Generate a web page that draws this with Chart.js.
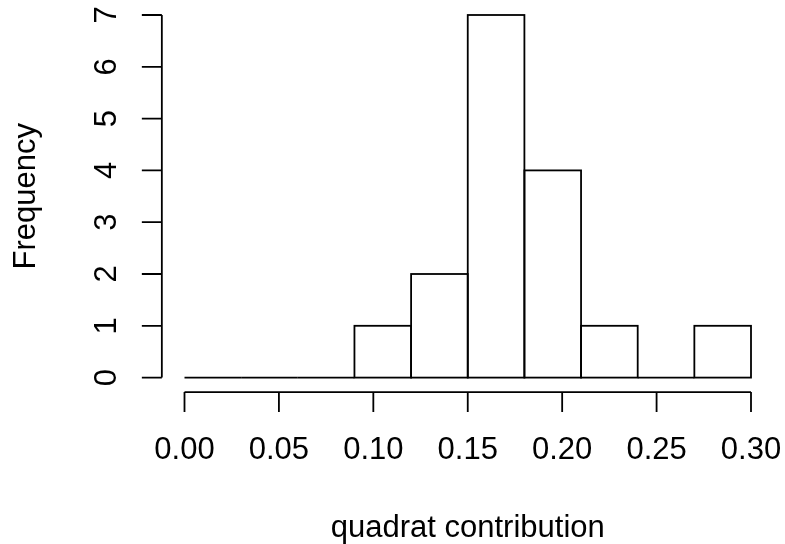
<!DOCTYPE html>
<html>
<head>
<meta charset="utf-8">
<script src="https://cdn.jsdelivr.net/npm/chart.js@4/dist/chart.umd.min.js"></script>
<style>
  html, body { margin: 0; padding: 0; background: #fff; }
  #wrap { width: 785px; height: 544px; }
</style>
</head>
<body>
<div id="wrap"><canvas id="hist" width="785" height="544"></canvas></div>
<script>
// Histogram of quadrat contributions (R hist() look)
const BREAKS = [0.00, 0.03, 0.06, 0.09, 0.12, 0.15, 0.18, 0.21, 0.24, 0.27, 0.30];
const COUNTS = [0, 0, 0, 1, 2, 7, 4, 1, 0, 1];
const X_TICKS = [0.00, 0.05, 0.10, 0.15, 0.20, 0.25, 0.30];
const Y_TICKS = [0, 1, 2, 3, 4, 5, 6, 7];
const X_TITLE = 'quadrat contribution';
const Y_TITLE = 'Frequency';

const FONT = '31px "Liberation Sans", Arial, Helvetica, sans-serif';
const LINE_W = 1.8;
const TICK_LEN = 20;

// ── R-style axes + bar outlines drawn from chart scales ─────────
const rPlot = {
  id: 'rPlot',
  afterDatasetsDraw(chart) {
    const { ctx, scales: { x, y } } = chart;
    ctx.save();
    ctx.strokeStyle = '#000';
    ctx.fillStyle = '#000';
    ctx.lineWidth = LINE_W;

    // bar outlines (strokes centred on edges like R's rect())
    chart.getDatasetMeta(0).data.forEach(bar => {
      const p = bar.getProps(['x', 'y', 'base', 'width'], true);
      ctx.strokeRect(p.x - p.width / 2, p.y, p.width, p.base - p.y);
    });

    // R puts axes 4% outside the data range
    const xSpan = x.max - x.min, ySpan = y.max - y.min;
    const axisY = y.getPixelForValue(y.min - 0.04 * ySpan);
    const axisX = x.getPixelForValue(x.min - 0.04 * xSpan);

    // x axis
    ctx.beginPath();
    ctx.moveTo(x.getPixelForValue(X_TICKS[0]), axisY);
    ctx.lineTo(x.getPixelForValue(X_TICKS[X_TICKS.length - 1]), axisY);
    X_TICKS.forEach(v => {
      const px = x.getPixelForValue(v);
      ctx.moveTo(px, axisY);
      ctx.lineTo(px, axisY + TICK_LEN);
    });
    ctx.stroke();

    // y axis
    ctx.beginPath();
    ctx.moveTo(axisX, y.getPixelForValue(Y_TICKS[0]));
    ctx.lineTo(axisX, y.getPixelForValue(Y_TICKS[Y_TICKS.length - 1]));
    Y_TICKS.forEach(v => {
      const py = y.getPixelForValue(v);
      ctx.moveTo(axisX, py);
      ctx.lineTo(axisX - TICK_LEN, py);
    });
    ctx.stroke();

    ctx.font = FONT;
    ctx.textBaseline = 'alphabetic';
    ctx.textAlign = 'center';

    // x tick labels
    X_TICKS.forEach(v => {
      ctx.fillText(v.toFixed(2), x.getPixelForValue(v), axisY + 67);
    });

    // y tick labels, rotated like R's default las=0
    Y_TICKS.forEach(v => {
      ctx.save();
      ctx.translate(axisX - 46, y.getPixelForValue(v));
      ctx.rotate(-Math.PI / 2);
      ctx.fillText(String(v), 0, 0);
      ctx.restore();
    });

    // titles
    const cx = (chart.chartArea.left + chart.chartArea.right) / 2;
    const cy = (chart.chartArea.top + chart.chartArea.bottom) / 2;
    ctx.fillText(X_TITLE, cx, axisY + 145);

    ctx.save();
    ctx.translate(35, cy);
    ctx.rotate(-Math.PI / 2);
    ctx.fillText(Y_TITLE, 0, 0);
    ctx.restore();

    ctx.restore();
  }
};

const centers = COUNTS.map((_, i) => (BREAKS[i] + BREAKS[i + 1]) / 2);

new Chart(document.getElementById('hist'), {
  type: 'bar',
  data: {
    datasets: [{
      data: COUNTS.map((c, i) => ({ x: centers[i], y: c })),
      backgroundColor: 'rgba(0,0,0,0)',
      borderWidth: 0,
      barPercentage: 1,
      categoryPercentage: 1,
    }]
  },
  options: {
    responsive: false,
    animation: false,
    events: [],
    layout: { padding: { left: 184.5, right: 34, top: 15, bottom: 166.4 } },
    plugins: { legend: { display: false }, tooltip: { enabled: false } },
    scales: {
      x: { type: 'linear', min: BREAKS[0], max: BREAKS[BREAKS.length - 1], offset: false, display: false },
      y: { type: 'linear', min: 0, max: 7, display: false }
    }
  },
  plugins: [rPlot]
});
</script>
</body>
</html>
